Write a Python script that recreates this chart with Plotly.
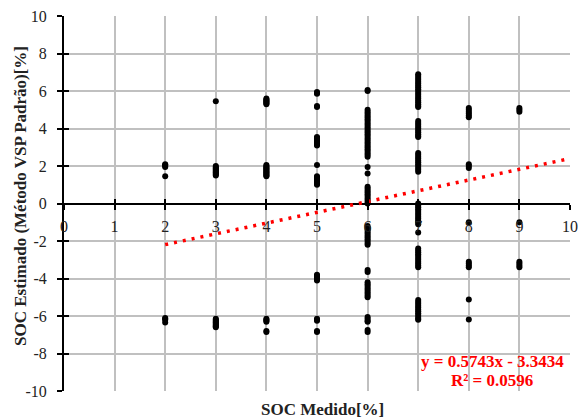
import plotly.graph_objects as go

# ---- data ----
y_at_2 = [2.1, 2.05, 2.0, 1.95, 1.45, -6.1, -6.15, -6.2, -6.35]
y_at_3 = [5.45, 2.0, 1.95, 1.9, 1.85, 1.8, 1.75, 1.7, 1.65, 1.6, 1.55, 1.5,
          -6.15, -6.2, -6.25, -6.3, -6.35, -6.4, -6.45, -6.5, -6.55, -6.6]
y_at_4 = [5.6, 5.55, 5.5, 5.45, 5.4, 5.35, 5.3,
          2.05, 2.0, 1.95, 1.9, 1.85, 1.8, 1.75, 1.7, 1.65, 1.6, 1.55, 1.5, 1.45,
          -6.15, -6.2, -6.25, -6.3, -6.8, -6.85]
y_at_5 = [5.95, 5.9, 5.85, 5.2, 5.15,
          3.55, 3.5, 3.45, 3.4, 3.35, 3.3, 3.25, 3.2, 3.15, 3.1, 2.05,
          1.45, 1.4, 1.35, 1.3, 1.25, 1.2, 1.15, 1.1, 1.05, 1.0,
          -3.8, -3.85, -3.9, -3.95, -4.0, -4.05, -4.1,
          -6.15, -6.2, -6.25, -6.8, -6.85]
y_at_6 = [6.05, 6.0, 5.0, 4.9, 4.8, 4.7, 4.6, 4.5, 4.4, 4.3, 4.2, 4.1, 4.0,
          3.9, 3.8, 3.7, 3.6, 3.5, 3.4, 3.3, 3.2, 3.1, 3.0, 2.9, 2.8, 2.7,
          2.6, 2.5, 1.95, 1.6, 0.9, 0.8, 0.7, 0.6, 0.5, 0.4, 0.3, 0.2, 0.1, 0.0,
          -1.2, -1.3, -1.4, -1.5, -1.6, -1.7, -1.8, -1.9, -2.0, -2.1, -2.2,
          -3.55, -3.65, -4.2, -4.3, -4.4, -4.5, -4.6, -4.7, -4.8, -4.9, -5.0,
          -6.05, -6.15, -6.25, -6.3, -6.75, -6.85]
y_at_7 = [6.9, 6.8, 6.7, 6.6, 6.5, 6.4, 6.3, 6.2, 6.1, 6.0, 5.9, 5.8, 5.7,
          5.6, 5.5, 5.4, 5.3, 5.2, 5.15,
          4.4, 4.3, 4.2, 4.1, 4.0, 3.9, 3.8, 3.7, 3.6, 3.55,
          2.7, 2.6, 2.5, 2.4, 2.3, 2.2, 2.1, 2.0, 1.9, 1.8, 1.7,
          0.0, -0.1, -0.2, -0.3, -0.4, -0.5, -0.6, -0.7, -0.8, -0.9, -1.0, -1.1,
          -1.55, -2.4, -2.5, -2.6, -2.7, -2.8, -2.9, -3.0, -3.1, -3.2, -3.3, -3.4,
          -5.15, -5.25, -5.35, -5.45, -5.55, -5.65, -5.75, -5.85, -5.95, -6.05, -6.15, -6.2]
y_at_8 = [5.1, 5.0, 4.9, 4.8, 4.7, 4.6, 2.1, 2.0, 1.9, -1.0,
          -3.1, -3.2, -3.3, -3.4, -5.12, -6.19]
y_at_9 = [5.1, 5.0, 4.9, -1.0, -3.1, -3.2, -3.3, -3.4]

groups = {2: y_at_2, 3: y_at_3, 4: y_at_4, 5: y_at_5,
          6: y_at_6, 7: y_at_7, 8: y_at_8, 9: y_at_9}

soc_medido = []
soc_estimado = []
for xv, ys in groups.items():
    soc_medido += [xv] * len(ys)
    soc_estimado += ys

trend_slope = 0.5743
trend_intercept = -3.3434
trend_x = [2, 10]
trend_y = [trend_slope * v + trend_intercept for v in trend_x]

x_ticks = [0, 1, 2, 3, 4, 5, 6, 7, 8, 9, 10]
x_tick_text = ["0", "1", "2", "3", "4", "5", "6", "7", "8", "9", "10"]
y_ticks = [-10, -8, -6, -4, -2, 0, 2, 4, 6, 8, 10]
y_tick_text = ["-10", "-8", "-6", "-4", "-2", "0", "2", "4", "6", "8", "10"]

FONT = "Liberation Serif"
GRID = "#C0C0C0"
TXT = "#222222"

fig = go.Figure()
fig.add_trace(go.Scatter(
    x=soc_medido, y=soc_estimado, mode="markers",
    marker=dict(color="black", size=6, line=dict(width=0)),
    showlegend=False, hoverinfo="skip"))

# helper empty traces to materialise overlay axes
fig.add_trace(go.Scatter(x=[], y=[], xaxis="x2", yaxis="y", showlegend=False))
fig.add_trace(go.Scatter(x=[], y=[], xaxis="x", yaxis="y2", showlegend=False))
fig.add_trace(go.Scatter(
    x=trend_x, y=trend_y, mode="lines", xaxis="x3", yaxis="y",
    line=dict(color="#FF0000", width=3.5, dash="3px,6px"),
    showlegend=False, hoverinfo="skip"))

fig.update_layout(
    width=579, height=418,
    margin=dict(l=64, r=9, t=16, b=27, autoexpand=False),
    paper_bgcolor="white", plot_bgcolor="white",
    font=dict(family=FONT, size=16, color=TXT),
    xaxis=dict(range=[0, 10], tickvals=x_ticks, showticklabels=False,
               showgrid=True, gridcolor=GRID, gridwidth=1.5, automargin=False,
               zeroline=False, showline=False, ticks=""),
    xaxis2=dict(overlaying="x", anchor="free", position=0.5, range=[0, 10],
                tickvals=x_ticks, ticktext=x_tick_text, showgrid=False,
                zeroline=False, showline=False, ticks="outside", ticklen=5,
                tickwidth=1.5, tickcolor="black", ticklabelstandoff=3,
                automargin=False,
                tickfont=dict(family=FONT, size=16, color=TXT)),
    xaxis3=dict(overlaying="x", anchor="free", position=0.5, range=[0, 10],
                tickvals=x_ticks, showticklabels=False, showgrid=False,
                zeroline=False, showline=False, ticks="inside", ticklen=5,
                tickwidth=1.5, tickcolor="black", automargin=False),
    yaxis=dict(range=[-10, 10], tickvals=y_ticks, ticktext=y_tick_text,
               showgrid=True, gridcolor=GRID, gridwidth=1.5, automargin=False,
               zeroline=True, zerolinecolor="black", zerolinewidth=2,
               showline=True, linecolor="black", linewidth=2,
               ticks="outside", ticklen=5, tickwidth=1.5, tickcolor="black",
               ticklabelstandoff=7,
               tickfont=dict(family=FONT, size=16, color=TXT)),
    yaxis2=dict(overlaying="y", anchor="x", side="left", range=[-10, 10],
                tickvals=y_ticks, showticklabels=False, showgrid=False,
                zeroline=False, showline=False, ticks="inside", ticklen=5,
                tickwidth=1.5, tickcolor="black", automargin=False),
    annotations=[
        dict(text="<b>SOC Medido[%]</b>", xref="paper", yref="paper",
             x=0.51, y=0, yshift=-18, xanchor="center", yanchor="middle",
             showarrow=False, font=dict(family=FONT, size=17, color=TXT)),
        dict(text="<b>SOC Estimado (Método VSP Padrão)[%]</b>", xref="paper",
             yref="paper", x=0, xshift=-44, y=0.52, textangle=-90,
             xanchor="center", yanchor="middle",
             showarrow=False, font=dict(family=FONT, size=17, color=TXT)),
        dict(text="<b>y = 0.5743x - 3.3434</b>", xref="x", yref="y",
             x=8.46, y=-8.43, xanchor="center", yanchor="middle",
             showarrow=False,
             font=dict(family=FONT, size=17, color="#FF0000")),
        dict(text="<b>R² = 0.0596</b>", xref="x", yref="y",
             x=8.46, y=-9.44, xanchor="center", yanchor="middle",
             showarrow=False,
             font=dict(family=FONT, size=17, color="#FF0000")),
    ],
)

fig.write_html("out.html")
